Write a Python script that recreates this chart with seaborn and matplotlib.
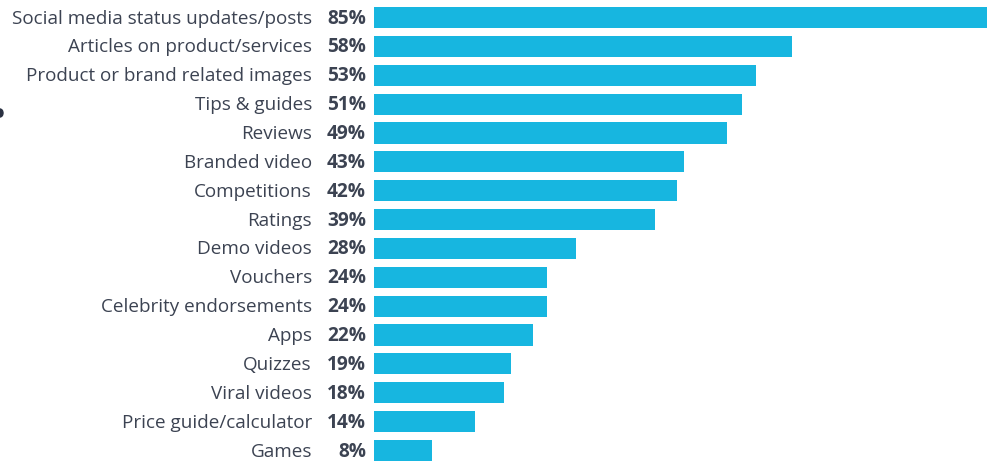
import matplotlib
matplotlib.use("Agg")
import matplotlib.pyplot as plt
import matplotlib.transforms as mtransforms
from matplotlib.patches import Ellipse
import seaborn as sns
import pandas as pd

categories = [
    "Social media status updates/posts",
    "Articles on product/services",
    "Product or brand related images",
    "Tips & guides",
    "Reviews",
    "Branded video",
    "Competitions",
    "Ratings",
    "Demo videos",
    "Vouchers",
    "Celebrity endorsements",
    "Apps",
    "Quizzes",
    "Viral videos",
    "Price guide/calculator",
    "Games",
]
values = [85, 58, 53, 51, 49, 43, 42, 39, 28, 24, 24, 22, 19, 18, 14, 8]

df = pd.DataFrame({"category": categories, "value": values})

sns.set_theme(style="white")
plt.rcParams["font.family"] = ["Open Sans", "DejaVu Sans"]

W, H, DPI = 992, 461, 100
fig = plt.figure(figsize=(W / DPI, H / DPI), dpi=DPI)
ax = fig.add_axes([374 / W, 0, 613 / W, 1])

sns.barplot(data=df, x="value", y="category", orient="h", color="#17b6e0",
            saturation=1, width=0.73, linewidth=0, ax=ax)

ax.set_xlim(0, 85)
pitch = (450.5 - 17.5) / 15
ax.set_ylim((H - 17.5) / pitch, -17.5 / pitch)
ax.set_axis_off()

text_col = "#3c4352"
# category names and bold percentages placed left of the bar origin
name_tr = ax.get_yaxis_transform() + mtransforms.ScaledTranslation(-62 / DPI, -1 / DPI, fig.dpi_scale_trans)
pct_tr = ax.get_yaxis_transform() + mtransforms.ScaledTranslation(-8 / DPI, -1 / DPI, fig.dpi_scale_trans)
for i, (cat, v) in enumerate(zip(categories, values)):
    ax.text(0, i, cat, transform=name_tr, ha="right", va="center",
            fontsize=13.6, color=text_col)
    ax.text(0, i, f"{v}%", transform=pct_tr, ha="right", va="center",
            fontsize=13.8, fontweight="bold", color=text_col)

# small dark mark at the left edge
fig.patches.append(Ellipse((0, 1 - 113 / H), 6 / W, 8 / H, transform=fig.transFigure,
                           color="#2a3142", zorder=5))

fig.savefig("out.png", dpi=DPI)
